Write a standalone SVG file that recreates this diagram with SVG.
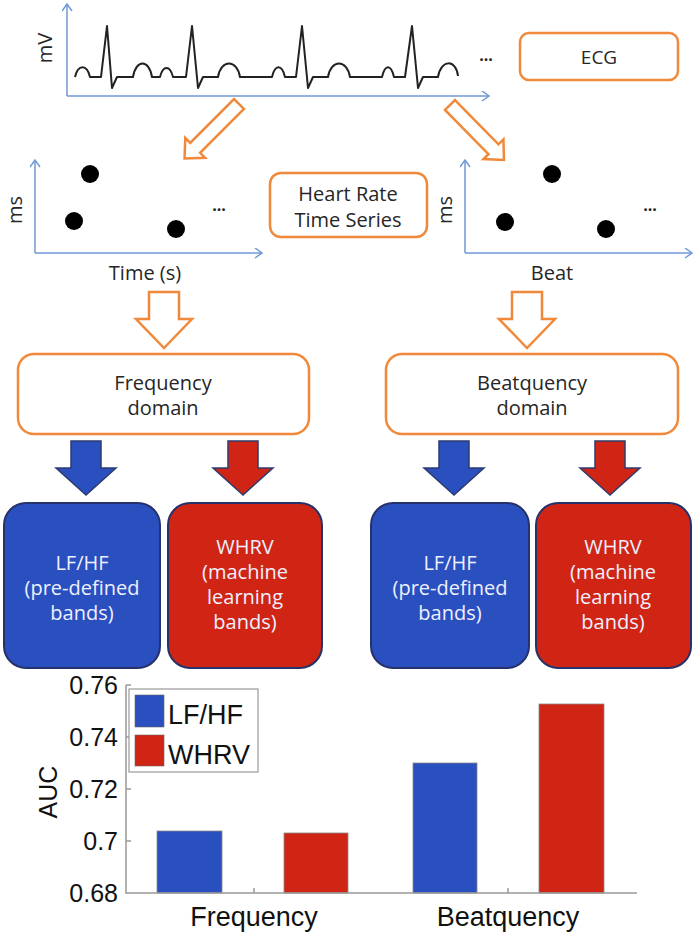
<svg xmlns="http://www.w3.org/2000/svg" width="697" height="937" viewBox="0 0 697 937">
<style>
.ax{stroke:#6f98d6;stroke-width:1.5;fill:none}
.ecg{stroke:#222;stroke-width:2;fill:none;stroke-linejoin:round}
.obox{fill:#fff;stroke:#f0893a;stroke-width:2.5}
.oarr{fill:#fff;stroke:#f0893a;stroke-width:2.5;stroke-linejoin:miter}
.t{font-family:"Open Sans","Liberation Sans",sans-serif;fill:#262626;text-anchor:middle}
.bt{font-family:"Open Sans","Liberation Sans",sans-serif;fill:#eef0ff;text-anchor:middle;font-size:20px}
.blue{fill:#2a4fbf}
.red{fill:#d02514}
.sarr{stroke:#2e3b6e;stroke-width:1.5}
.box{stroke:#26336a;stroke-width:2}
.c{font-family:"Liberation Sans",Arial,sans-serif;fill:#111}
.cax{stroke:#999;stroke-width:1.5;fill:none}
.bar{stroke:#888;stroke-width:0.8}
</style>
<defs>
<marker id="ah" markerUnits="userSpaceOnUse" markerWidth="12" markerHeight="12" refX="8" refY="5" orient="auto">
<path d="M1,0 L8,5 L1,10" fill="none" stroke="#6f98d6" stroke-width="1.5"/>
</marker>
<path id="diag" d="M0,-7 L62,-7 L62,-14 L77,0 L62,14 L62,7 L0,7 Z"/>
</defs>

<g id="ecg-plot">
<line class="ax" x1="67" y1="96" x2="67" y2="4" marker-end="url(#ah)"/>
<line class="ax" x1="67" y1="96" x2="489" y2="96" marker-end="url(#ah)"/>
<path class="ecg" d="M75,77 C78,64 87,64 90,77 L101,77 L107,26 L112,88 L117,77 L133,77 C136,59 149,59 152,77 L160,77 C163,65 170,65 173,77 L186,77 L192,26 L198,88 L203,77 L218,77 C221,59 237,59 240,77 L272,77 C275,64 282,64 285,77 L296,77 L302,26 L308,88 L313,77 L328,77 C331,59 347,59 350,77 L382,77 C385,64 391,64 394,77 L405,77 L412,26 L418,88 L423,77 L438,77 C441,59 456,59 458,76"/>
<text class="t" font-size="20" transform="translate(52,48) rotate(-90)">mV</text>
<text class="t" font-size="16" font-weight="bold" x="486" y="61">...</text>
</g>

<g id="ecg-box">
<rect class="obox" x="520" y="33" width="158" height="47" rx="9"/>
<text class="t" font-size="19" x="599" y="64">ECG</text>
</g>

<g id="hr-time-plot">
<line class="ax" x1="35" y1="253" x2="35" y2="160" marker-end="url(#ah)"/>
<line class="ax" x1="35" y1="253" x2="262" y2="253" marker-end="url(#ah)"/>
<circle cx="90" cy="174" r="9" fill="#000"/>
<circle cx="74" cy="221" r="9" fill="#000"/>
<circle cx="176" cy="229" r="9" fill="#000"/>
<text class="t" font-size="16" font-weight="bold" x="219" y="211">...</text>
<text class="t" font-size="20" transform="translate(22,210) rotate(-90)">ms</text>
<text class="t" font-size="20" x="145" y="280">Time (s)</text>
</g>

<g id="hr-box">
<rect class="obox" x="270" y="173" width="157" height="64" rx="11"/>
<text class="t" font-size="20" x="348" y="201">Heart Rate</text>
<text class="t" font-size="20" x="348" y="227">Time Series</text>
</g>

<g id="hr-beat-plot">
<line class="ax" x1="465" y1="253" x2="465" y2="160" marker-end="url(#ah)"/>
<line class="ax" x1="465" y1="253" x2="692" y2="253" marker-end="url(#ah)"/>
<circle cx="552" cy="174" r="9" fill="#000"/>
<circle cx="505" cy="222" r="9" fill="#000"/>
<circle cx="606" cy="229" r="9" fill="#000"/>
<text class="t" font-size="16" font-weight="bold" x="650" y="211">...</text>
<text class="t" font-size="20" transform="translate(452,210) rotate(-90)">ms</text>
<text class="t" font-size="20" x="552" y="280">Beat</text>
</g>

<g id="freq-box">
<rect class="obox" x="18" y="354" width="291" height="80" rx="16"/>
<text class="t" font-size="20" x="163" y="390">Frequency</text>
<text class="t" font-size="20" x="163" y="415">domain</text>
</g>

<g id="beat-box">
<rect class="obox" x="386" y="354" width="292" height="80" rx="16"/>
<text class="t" font-size="20" x="532" y="390">Beatquency</text>
<text class="t" font-size="20" x="532" y="415">domain</text>
</g>

<g id="lfhf-freq">
<rect class="blue box" x="4" y="503" width="156" height="165" rx="22"/>
<text class="bt" x="82" y="570">LF/HF</text>
<text class="bt" x="82" y="595">(pre-defined</text>
<text class="bt" x="82" y="620">bands)</text>
</g>
<g id="whrv-freq">
<rect class="red box" x="168" y="503" width="154" height="165" rx="22"/>
<text class="bt" x="245" y="554">WHRV</text>
<text class="bt" x="245" y="579">(machine</text>
<text class="bt" x="245" y="604">learning</text>
<text class="bt" x="245" y="629">bands)</text>
</g>
<g id="lfhf-beat">
<rect class="blue box" x="371" y="503" width="158" height="165" rx="22"/>
<text class="bt" x="450" y="570">LF/HF</text>
<text class="bt" x="450" y="595">(pre-defined</text>
<text class="bt" x="450" y="620">bands)</text>
</g>
<g id="whrv-beat">
<rect class="red box" x="536" y="503" width="155" height="165" rx="22"/>
<text class="bt" x="613" y="554">WHRV</text>
<text class="bt" x="613" y="579">(machine</text>
<text class="bt" x="613" y="604">learning</text>
<text class="bt" x="613" y="629">bands)</text>
</g>

<g id="connectors">
<use href="#diag" class="oarr" transform="translate(239,104) rotate(135)"/>
<use href="#diag" class="oarr" transform="translate(450,105) rotate(45.5)"/>
<path class="oarr" d="M149,292 L179,292 L179,319 L192,319 L164,348 L136,319 L149,319 Z"/>
<path class="oarr" d="M512,292 L542,292 L542,319 L555,319 L527,348 L499,319 L512,319 Z"/>
<path class="blue sarr" d="M71,441 L101,441 L101,468 L116,468 L86,495 L56,468 L71,468 Z"/>
<path class="red sarr" d="M228,441 L258,441 L258,468 L273,468 L243,495 L213,468 L228,468 Z"/>
<path class="blue sarr" d="M439,441 L469,441 L469,468 L484,468 L454,495 L424,468 L439,468 Z"/>
<path class="red sarr" d="M595,441 L625,441 L625,468 L640,468 L610,495 L580,468 L595,468 Z"/>
</g>

<g id="auc-chart">
<rect class="blue bar" x="157" y="831" width="65" height="62"/>
<rect class="red bar" x="284" y="833" width="64" height="60"/>
<rect class="blue bar" x="413" y="763" width="64" height="130"/>
<rect class="red bar" x="539" y="704" width="65" height="189"/>
<path class="cax" d="M126,685 L126,893 L637,893"/>
<path class="cax" d="M126,685 L131,685 M126,737 L131,737 M126,789 L131,789 M126,841 L131,841 M254,893 L254,888 M508,893 L508,888"/>
<g class="c" font-size="25" text-anchor="end">
<text x="118" y="694">0.76</text>
<text x="118" y="746">0.74</text>
<text x="118" y="798">0.72</text>
<text x="118" y="850">0.7</text>
<text x="118" y="902">0.68</text>
</g>
<text class="c" font-size="25" text-anchor="middle" transform="translate(57,792) rotate(-90)">AUC</text>
<text class="c" font-size="27" text-anchor="middle" x="254" y="926">Frequency</text>
<text class="c" font-size="27" text-anchor="middle" x="508" y="926">Beatquency</text>
<g id="legend">
<rect x="129" y="689" width="129" height="83" fill="#fff" stroke="#999" stroke-width="1.2"/>
<rect class="blue" x="135" y="695" width="29" height="32" stroke="#666" stroke-width="0.6"/>
<rect class="red" x="135" y="735" width="29" height="31" stroke="#666" stroke-width="0.6"/>
<text class="c" font-size="27" x="168" y="724">LF/HF</text>
<text class="c" font-size="27" x="168" y="764">WHRV</text>
</g>
</g>
</svg>
